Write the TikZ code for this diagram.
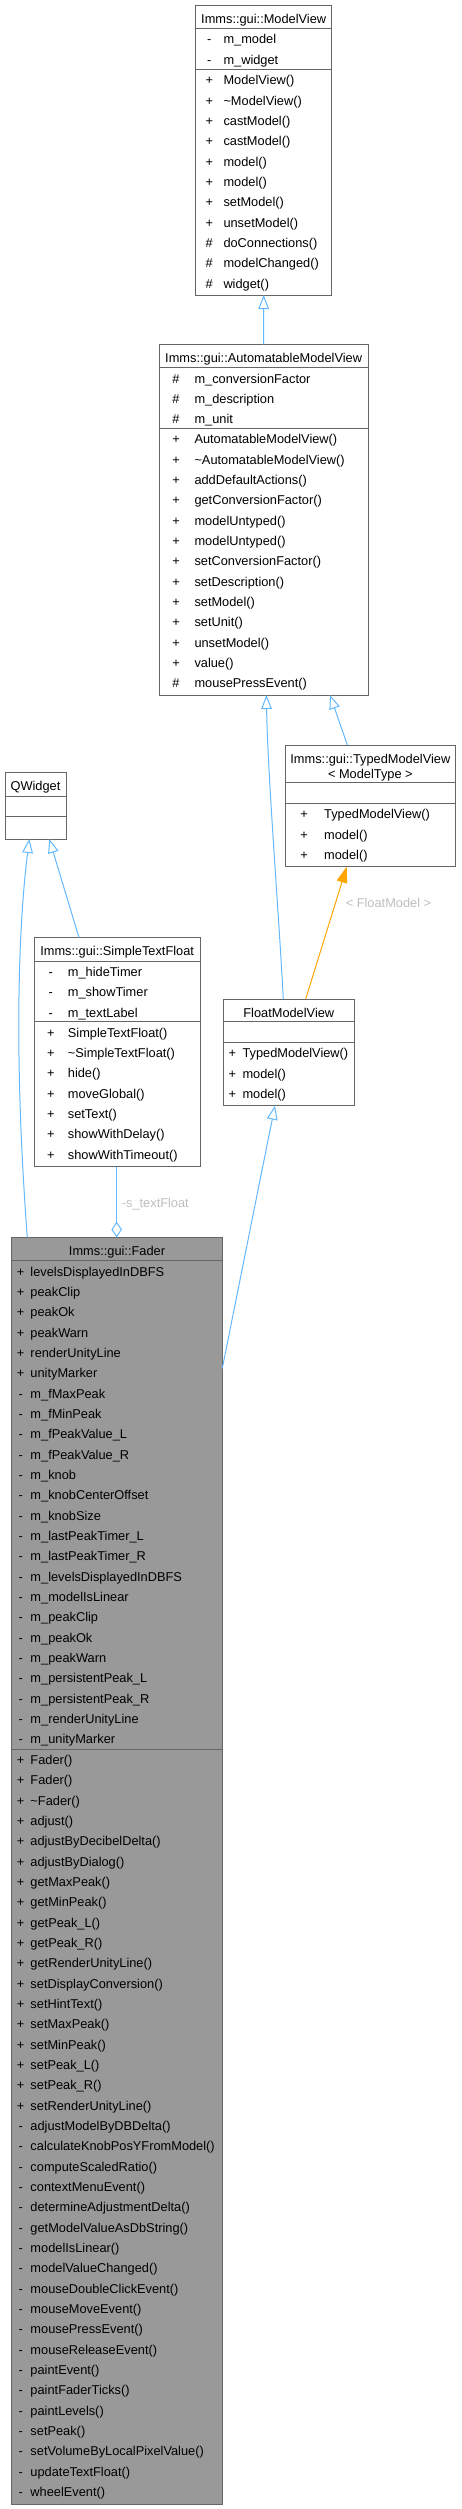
\documentclass[tikz,border=0pt]{standalone}
\usepackage{fontspec}
\setmainfont{Liberation Sans}
\usetikzlibrary{arrows.meta,calc}
\definecolor{bord}{HTML}{666666}
\definecolor{edgeblue}{HTML}{63B8FF}
\definecolor{fadefill}{HTML}{999999}
\definecolor{lblgray}{HTML}{BEBEBE}
\definecolor{tmplorange}{HTML}{FFA500}
% #1 prefix, #2 symbol x, #3 name x, #4 compartment top y, #5 list sym/name
\newcommand\umlrows[5]{%
  \foreach [count=\i from 0] \s/\t in {#5}{%
    \node[sym] (#1s\i) at (#2,{#4+15.6+\i*20.33}) {\s};
    \node[txt] (#1t\i) at (#3,{#4+15.6+\i*20.33}) {\t};
  }}
\begin{document}
\begin{tikzpicture}[x=1pt,y=-1pt,
  font=\fontsize{12.8}{15.6}\selectfont,
  box/.style={draw=bord, line width=1pt, fill=white, inner sep=0pt, outer sep=0pt},
  sepl/.style={draw=bord, line width=1pt},
  sym/.style={anchor=base, inner sep=0pt},
  txt/.style={anchor=base west, inner sep=0pt},
  hdr/.style={anchor=base, inner sep=0pt},
  inh/.style={draw=edgeblue, line width=1pt, -{Triangle[open, length=14pt, width=10.7pt]}},
  tmpl/.style={draw=tmplorange, line width=1pt, -{Triangle[length=16pt, width=10.7pt, fill=tmplorange]}},
  aggr/.style={draw=edgeblue, line width=1pt, -{Diamond[open, length=15.6pt, width=10.6pt]}},
  elabel/.style={text=lblgray, inner sep=0pt}]
\useasboundingbox (0,0) rectangle (461,2509);

% ---------- ModelView ----------
\node[box, minimum width=136pt, minimum height=290pt] (mv) at (263.7,150) {};
\draw[sepl] (195.7,28.3) -- (331.7,28.3);
\draw[sepl] (195.7,69.3) -- (331.7,69.3);
\node[hdr] (mvh) at (263.7,23) {Imms::gui::ModelView};
\umlrows{mva}{209.3}{223.3}{28.3}{-/m\_model, -/m\_widget}
\umlrows{mvm}{209.3}{223.3}{69.3}{+/ModelView(), +/\textasciitilde ModelView(), +/castModel(), +/castModel(), +/model(), +/model(), +/setModel(), +/unsetModel(), \#/doConnections(), \#/modelChanged(), \#/widget()}

% ---------- AutomatableModelView ----------
\node[box, minimum width=209.3pt, minimum height=350.7pt] (amv) at (263.65,519.65) {};
\draw[sepl] (159,367.7) -- (368.3,367.7);
\draw[sepl] (159,428.3) -- (368.3,428.3);
\node[hdr] (amvh) at (263.65,362.3) {Imms::gui::AutomatableModelView};
\umlrows{amva}{176}{194.3}{367.7}{\#/m\_conversionFactor, \#/m\_description, \#/m\_unit}
\umlrows{amvm}{176}{194.3}{428.3}{+/AutomatableModelView(), +/\textasciitilde AutomatableModelView(), +/addDefaultActions(), +/getConversionFactor(), +/modelUntyped(), +/modelUntyped(), +/setConversionFactor(), +/setDescription(), +/setModel(), +/setUnit(), +/unsetModel(), +/value(), \#/mousePressEvent()}

% ---------- TypedModelView ----------
\node[box, minimum width=170.7pt, minimum height=121.7pt] (tmv) at (370.35,805.85) {};
\draw[sepl] (285,782.7) -- (455.7,782.7);
\draw[sepl] (285,803.3) -- (455.7,803.3);
\node[hdr] (tmvh1) at (370.35,763) {Imms::gui::TypedModelView};
\node[hdr] (tmvh2) at (370.35,778.6) {< ModelType >};
\umlrows{tmvm}{304}{324}{803.3}{+/TypedModelView(), +/model(), +/model()}

% ---------- QWidget ----------
\node[box, minimum width=61pt, minimum height=66.3pt] (qw) at (35.5,805.85) {};
\draw[sepl] (5,796) -- (66,796);
\draw[sepl] (5,816) -- (66,816);
\node[hdr] (qwh) at (35.5,790.6) {QWidget};

% ---------- SimpleTextFloat ----------
\node[box, minimum width=165.7pt, minimum height=229pt] (stf) at (117.15,1052.2) {};
\draw[sepl] (34.3,961) -- (200,961);
\draw[sepl] (34.3,1021.7) -- (200,1021.7);
\node[hdr] (stfh) at (117.15,955.6) {Imms::gui::SimpleTextFloat};
\umlrows{stfa}{50.8}{67.7}{961}{-/m\_hideTimer, -/m\_showTimer, -/m\_textLabel}
\umlrows{stfm}{50.8}{67.7}{1021.7}{+/SimpleTextFloat(), +/\textasciitilde SimpleTextFloat(), +/hide(), +/moveGlobal(), +/setText(), +/showWithDelay(), +/showWithTimeout()}

% ---------- FloatModelView ----------
\node[box, minimum width=131pt, minimum height=106.7pt] (fmv) at (288.8,1052.35) {};
\draw[sepl] (223.3,1021.7) -- (354.3,1021.7);
\draw[sepl] (223.3,1042.3) -- (354.3,1042.3);
\node[hdr] (fmvh) at (288.8,1017) {FloatModelView};
\umlrows{fmvm}{232.3}{242.3}{1042.3}{+/TypedModelView(), +/model(), +/model()}

% ---------- Fader ----------
\node[box, fill=fadefill, minimum width=210.6pt, minimum height=1266.7pt] (fader) at (117,1870.65) {};
\draw[sepl] (11.7,1260.7) -- (222.3,1260.7);
\draw[sepl] (11.7,1749) -- (222.3,1749);
\node[hdr] (faderh) at (117,1255.5) {Imms::gui::Fader};
\umlrows{fa}{20.7}{30.3}{1260.7}{+/levelsDisplayedInDBFS, +/peakClip, +/peakOk, +/peakWarn, +/renderUnityLine, +/unityMarker, -/m\_fMaxPeak, -/m\_fMinPeak, -/m\_fPeakValue\_L, -/m\_fPeakValue\_R, -/m\_knob, -/m\_knobCenterOffset, -/m\_knobSize, -/m\_lastPeakTimer\_L, -/m\_lastPeakTimer\_R, -/m\_levelsDisplayedInDBFS, -/m\_modelIsLinear, -/m\_peakClip, -/m\_peakOk, -/m\_peakWarn, -/m\_persistentPeak\_L, -/m\_persistentPeak\_R, -/m\_renderUnityLine, -/m\_unityMarker}
\umlrows{fm}{20.7}{30.3}{1749}{+/Fader(), +/Fader(), +/\textasciitilde Fader(), +/adjust(), +/adjustByDecibelDelta(), +/adjustByDialog(), +/getMaxPeak(), +/getMinPeak(), +/getPeak\_L(), +/getPeak\_R(), +/getRenderUnityLine(), +/setDisplayConversion(), +/setHintText(), +/setMaxPeak(), +/setMinPeak(), +/setPeak\_L(), +/setPeak\_R(), +/setRenderUnityLine(), -/adjustModelByDBDelta(), -/calculateKnobPosYFromModel(), -/computeScaledRatio(), -/contextMenuEvent(), -/determineAdjustmentDelta(), -/getModelValueAsDbString(), -/modelIsLinear(), -/modelValueChanged(), -/mouseDoubleClickEvent(), -/mouseMoveEvent(), -/mousePressEvent(), -/mouseReleaseEvent(), -/paintEvent(), -/paintFaderTicks(), -/paintLevels(), -/setPeak(), -/setVolumeByLocalPixelValue(), -/updateTextFloat(), -/wheelEvent()}

% ---------- connectors ----------
\draw[inh] (amv.north) -- (mv.south);
\draw[inh] ($(fmv.north)+(-5.5,0)$) .. controls (278,900) and (268,780) .. ($(amv.south)+(2.65,0)$);
\draw[inh] ($(tmv.north)+(-23,0)$) -- ($(amv.south)+(66.35,0)$);
\draw[tmpl] ($(fmv.north)+(16.9,0)$) -- ($(tmv.south)+(-23.65,0)$);
\node[elabel, anchor=base] (lblfm) at (388.5,907.6) {< FloatModel >};
\draw[inh] ($(stf.north)+(-38.15,0)$) -- ($(qw.south)+(13.8,0)$);
\draw[inh] ($(fader.north)+(-89.7,0)$) .. controls (14,1060) and (18,930) .. ($(qw.south)+(-6.2,0)$);
\draw[inh] ($(fader.north east)+(0,131)$) .. controls (238,1290) and (262,1170) .. ($(fmv.south)+(-13.8,0)$);
\draw[aggr] ($(stf.south)+(-0.45,0)$) -- ($(fader.north)+(-0.3,0)$);
\node[elabel, anchor=base west] (lblst) at (121.7,1207.9) {-s\_textFloat};
\end{tikzpicture}
\end{document}
